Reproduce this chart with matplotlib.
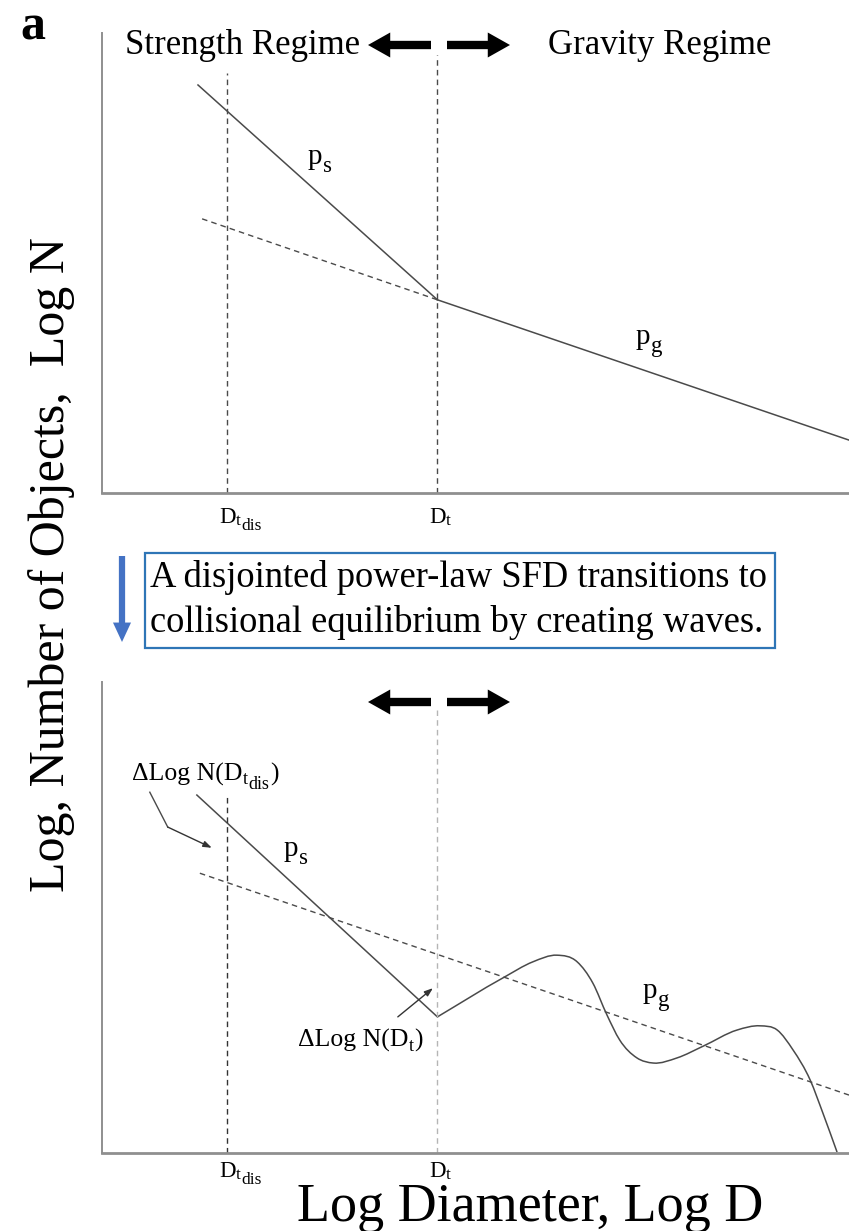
import numpy as np
import matplotlib
matplotlib.use("Agg")
import matplotlib.pyplot as plt
from matplotlib.path import Path
from matplotlib.patches import PathPatch, FancyArrowPatch, Rectangle

plt.rcParams["font.family"] = "serif"
plt.rcParams["font.serif"] = ["Liberation Serif", "DejaVu Serif"]

W, H = 849, 1231

# ---- characteristic diameters (log D) ----
D_T_DIS = 1.68
D_T = 4.49
X_MAX = 10.0

# ---- panel 1: disjointed power law ----
strength_x = [1.285, D_T]
strength_y = [8.87, 4.20]
gravity_x = [D_T, X_MAX]
gravity_y = [4.20, 1.15]
gravity_ext_x = [1.34, D_T]
gravity_ext_y = [5.96, 4.20]
top_tdis_height = 9.13
top_t_height = 9.52

# ---- panel 2: wavy collisional equilibrium ----
strength2_x = [1.27, D_T]
strength2_y = [7.60, 2.89]
wave_x = [4.49, 5.37, 5.77, 6.09, 6.36, 6.57, 6.76, 6.93, 7.16, 7.38,
          7.70, 8.05, 8.50, 8.81, 9.04, 9.25, 9.48, 9.65, 9.84]
wave_y = [2.89, 3.72, 4.06, 4.20, 4.06, 3.61, 2.93, 2.40, 2.02, 1.91,
          2.02, 2.27, 2.61, 2.70, 2.61, 2.19, 1.55, 0.85, 0.02]
trend2_x = [1.31, X_MAX]
trend2_y = [5.94, 1.23]
bot_tdis_height = 7.60
bot_t_height = 9.41

LINE = "#4a4a4a"
SPINE = "#8f8f8f"
DASH = (0, (4, 3))


def fx(px):
    return px / W


def fy(py):
    return 1 - py / H


fig = plt.figure(figsize=(W / 100, H / 100), dpi=100)
renderer = fig.canvas.get_renderer()


def text_width(s, size, weight="normal"):
    t = fig.text(0, 0, s, fontsize=size, fontweight=weight)
    w = t.get_window_extent(renderer).width
    t.remove()
    return w


def rich(x_px, base_px, pieces, gap=0.5):
    """Lay out (text, size, drop_px) pieces left to right on a baseline."""
    x = x_px
    for s, size, drop in pieces:
        fig.text(fx(x), fy(base_px + drop), s, fontsize=size,
                 ha="left", va="baseline")
        x += text_width(s, size) + gap


ax1 = fig.add_axes([fx(102), fy(493), fx(849) - fx(102), fy(33) - fy(493)])
ax2 = fig.add_axes([fx(102), fy(1153), fx(849) - fx(102), fy(682) - fy(1153)])

for ax in (ax1, ax2):
    ax.set_xlim(0, X_MAX)
    ax.set_ylim(0, 10)
    for s in ("top", "right"):
        ax.spines[s].set_visible(False)
    ax.spines["left"].set_color(SPINE)
    ax.spines["left"].set_linewidth(1.4)
    ax.spines["bottom"].set_color(SPINE)
    ax.spines["bottom"].set_linewidth(2.0)
    ax.set_yticks([])
    ax.set_xticks([])

# tick-style diameter labels, with the "D" centred on its marker line
D_SIZE, SUB_SIZE = 16.5, 12.5
for ax, base in ((ax1, 523), (ax2, 1177)):
    for xv, subs in ((D_T_DIS, [("t", 2), ("dis", 7)]), (D_T, [("t", 2)])):
        xp = ax.transData.transform((xv, 0))[0]
        pieces = [("D", D_SIZE, 0)] + [(s, SUB_SIZE, d) for s, d in subs]
        rich(xp - text_width("D", D_SIZE) / 2, base, pieces)

# panel 1 lines
ax1.plot(strength_x, strength_y, color=LINE, lw=1.1)
ax1.plot(gravity_x, gravity_y, color=LINE, lw=1.1)
ax1.plot(gravity_ext_x, gravity_ext_y, color=LINE, lw=1.0, ls=DASH)
ax1.vlines(D_T_DIS, 0, top_tdis_height, color=LINE, lw=1.0, linestyles=DASH)
ax1.vlines(D_T, 0, top_t_height, color=LINE, lw=1.0, linestyles=DASH)

# panel 2 lines
ax2.plot(strength2_x, strength2_y, color=LINE, lw=1.1)
ax2.plot(trend2_x, trend2_y, color=LINE, lw=1.0, ls=DASH)
ax2.vlines(D_T_DIS, 0, bot_tdis_height, color="#333333", lw=1.0, linestyles=DASH)
ax2.vlines(D_T, 0, bot_t_height, color="#b5b5b5", lw=1.0, linestyles=DASH)

# smooth wave: cubic Hermite in x through the sampled points, as Bezier segments
xs = np.asarray(wave_x)
ys = np.asarray(wave_y)
h = np.diff(xs)
d = np.diff(ys) / h
m = np.empty_like(xs)
m[0], m[-1] = d[0], d[-1]
m[1:-1] = (d[1:] * h[:-1] + d[:-1] * h[1:]) / (h[:-1] + h[1:])
verts = [(xs[0], ys[0])]
codes = [Path.MOVETO]
for i in range(len(xs) - 1):
    verts += [(xs[i] + h[i] / 3, ys[i] + m[i] * h[i] / 3),
              (xs[i + 1] - h[i] / 3, ys[i + 1] - m[i + 1] * h[i] / 3),
              (xs[i + 1], ys[i + 1])]
    codes += [Path.CURVE4] * 3
ax2.add_patch(PathPatch(Path(verts, codes), fill=False, edgecolor=LINE, lw=1.1))

# slope labels
P_SIZE, PSUB_SIZE = 21, 16.5
rich(308, 164, [("p", P_SIZE, 0), ("s", PSUB_SIZE, 8)])
rich(636, 344, [("p", P_SIZE, 0), ("g", PSUB_SIZE, 8)])
rich(284, 856, [("p", P_SIZE, 0), ("s", PSUB_SIZE, 8)])
rich(643, 998, [("p", P_SIZE, 0), ("g", PSUB_SIZE, 8)])

# Delta Log N annotations
A_SIZE, ASUB_SIZE = 18.5, 13
rich(132, 781, [("\u0394Log N(D", A_SIZE, 0), ("t", ASUB_SIZE, 3),
                ("dis", ASUB_SIZE, 8), (")", A_SIZE, 0)])
ax2.plot([0.64, 0.88], [7.66, 6.92], color=LINE, lw=1.0)
ax2.annotate("", xy=(1.47, 6.48), xytext=(0.88, 6.92),
             arrowprops=dict(arrowstyle="-|>,head_length=0.5,head_width=0.18",
                             color="#333333", lw=1.0, shrinkA=0, shrinkB=0))
rich(298, 1047, [("\u0394Log N(D", A_SIZE, 0), ("t", ASUB_SIZE, 4),
                 (")", A_SIZE, 0)])
ax2.annotate("", xy=(4.43, 3.50), xytext=(3.96, 2.89),
             arrowprops=dict(arrowstyle="-|>,head_length=0.5,head_width=0.18",
                             color="#333333", lw=1.0, shrinkA=0, shrinkB=0))


# regime arrows
def big_arrow(x0, x1, y, color="black", tw=6, hw=18, hl=16):
    fig.patches.append(FancyArrowPatch(
        (fx(x0), fy(y)), (fx(x1), fy(y)), transform=fig.transFigure,
        arrowstyle=f"simple,head_length={hl},head_width={hw},tail_width={tw}",
        mutation_scale=1, color=color, shrinkA=0, shrinkB=0, lw=0))


for yy in (45, 702):
    big_arrow(431, 368, yy)
    big_arrow(447, 510, yy)

fig.text(fx(125), fy(45), "Strength Regime", fontsize=25, ha="left", va="center")
fig.text(fx(548), fy(45), "Gravity Regime", fontsize=25, ha="left", va="center")

# panel tag
fig.text(fx(20), fy(28), "a", fontsize=36, fontweight="bold", ha="left", va="center")

# transition note
BLUE = "#4472C4"
fig.patches.append(FancyArrowPatch(
    (fx(122), fy(556)), (fx(122), fy(642)), transform=fig.transFigure,
    arrowstyle="simple,head_length=14,head_width=13,tail_width=4.5",
    mutation_scale=1, color=BLUE, shrinkA=0, shrinkB=0, lw=0))
fig.patches.append(Rectangle((fx(145), fy(648)), fx(775) - fx(145), fy(553) - fy(648),
                             transform=fig.transFigure, fill=False,
                             edgecolor="#2E75B6", lw=1.6))
fig.text(fx(150), fy(578), "A disjointed power-law SFD transitions to",
         fontsize=26.3, ha="left", va="center")
fig.text(fx(150), fy(622), "collisional equilibrium by creating waves.",
         fontsize=26.3, ha="left", va="center")

# axis titles
fig.text(fx(52), fy(565), "Log, Number of Objects,  Log N", fontsize=36,
         rotation=90, ha="center", va="center")
fig.text(fx(530), fy(1221), "Log Diameter, Log D", fontsize=39,
         ha="center", va="baseline")

fig.savefig("out.png", dpi=100)
